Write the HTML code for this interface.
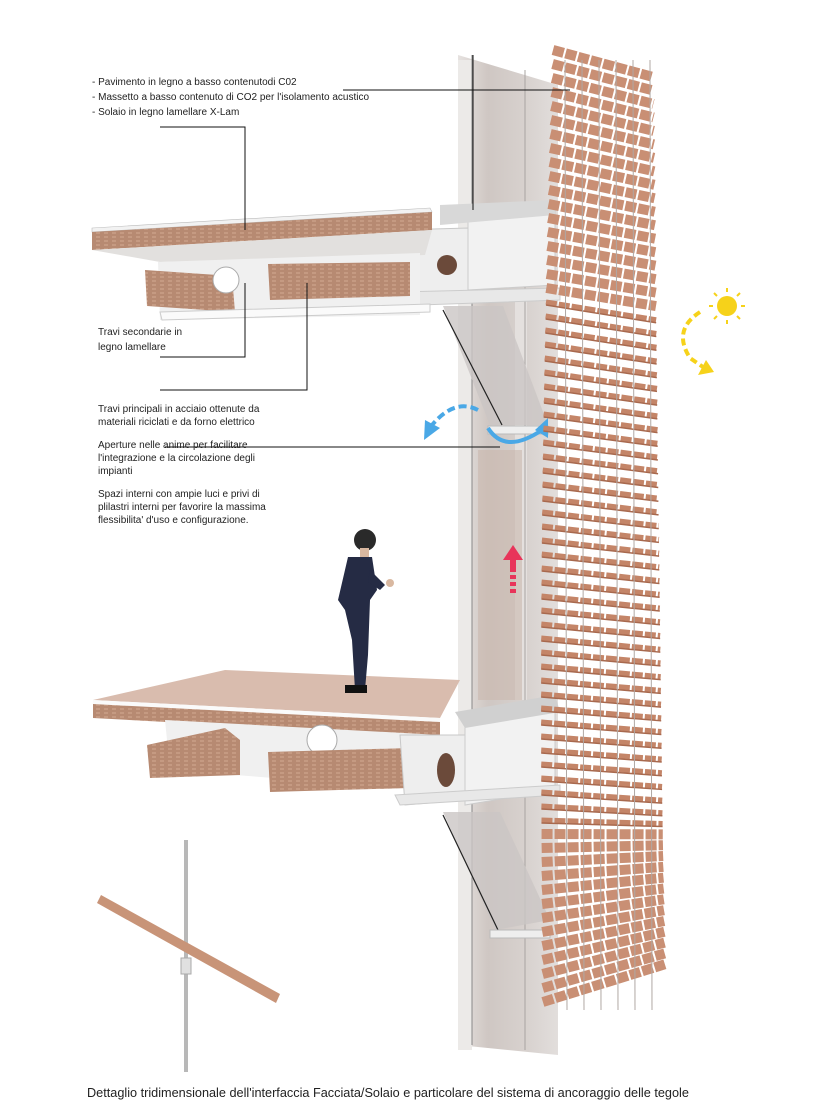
<!DOCTYPE html>
<html><head><meta charset="utf-8"><style>
html,body{margin:0;padding:0;background:#fff;}
svg{display:block}
text{font-family:"Liberation Sans",Arial,sans-serif;font-size:10px;fill:#222}
</style></head><body>
<svg id="s" width="840" height="1120" viewBox="0 0 840 1120" xmlns="http://www.w3.org/2000/svg">
<defs>
<linearGradient id="gl" x1="0" x2="1"><stop offset="0" stop-color="#e6e2e0"/><stop offset="0.3" stop-color="#cfc7c3"/><stop offset="0.7" stop-color="#d8d2cf"/><stop offset="1" stop-color="#e2dedc"/></linearGradient>
<pattern id="wd" width="8" height="4" patternUnits="userSpaceOnUse"><rect width="8" height="4" fill="#b78a72"/><rect width="4" height="2" fill="#c59a82"/></pattern>
</defs>
<polygon points="458,55 558,85 558,1055 458,1045" fill="url(#gl)"/>
<rect x="458" y="60" width="14" height="990" fill="#eceae8"/>
<rect x="515" y="300" width="12" height="400" fill="#e4e0de"/>
<line x1="472" y1="55" x2="472" y2="1045" stroke="#888" stroke-width="1"/>
<line x1="525" y1="70" x2="525" y2="1050" stroke="#a8a4a2" stroke-width="1"/>
<rect x="478" y="450" width="44" height="250" fill="#c9b8ae" opacity="0.6"/>
<polygon points="398,230 468,228 468,300 405,298" fill="#eeeeee" stroke="#c8c8c8"/>
<circle cx="447" cy="265" r="10" fill="#6b4a3a"/>
<polygon points="468,210 555,205 555,285 468,290" fill="#f2f2f2" stroke="#ccc"/>
<polygon points="440,205 555,200 555,215 440,225" fill="#d8d8d8"/>
<polygon points="400,292 560,288 560,300 420,305" fill="#e8e8e8" stroke="#ccc"/>
<polygon points="443,306 503,306 548,425 490,425" fill="#cbc6c4" opacity="0.8"/>
<line x1="443" y1="310" x2="502" y2="425" stroke="#222" stroke-width="1.2"/>
<rect x="488" y="426" width="60" height="8" fill="#eee" stroke="#bbb"/>
<polygon points="92,228 430,208 432,212 92,232" fill="#f2f2f2" stroke="#bbb" stroke-width="0.6"/>
<polygon points="92,232 432,212 432,230 92,250" fill="url(#wd)"/>
<polygon points="92,250 432,230 425,255 160,262" fill="#e2e0de"/>
<polygon points="158,262 420,253 420,315 160,320" fill="#f0f0f0"/>
<polygon points="145,270 232,276 235,312 147,306" fill="url(#wd)"/>
<circle cx="226" cy="280" r="13" fill="#fff" stroke="#aaa"/>
<polygon points="268,264 410,262 410,296 270,300" fill="url(#wd)"/>
<polygon points="160,312 430,304 430,312 162,320" fill="#fafafa" stroke="#ccc"/>
<polygon points="93,700 225,670 460,680 440,718" fill="#d9bcae"/>
<polygon points="93,700 440,718 440,722 93,704" fill="#fafafa"/>
<polygon points="93,704 440,722 440,737 93,718" fill="url(#wd)"/>
<polygon points="165,720 440,735 430,790 170,770" fill="#f0f0f0"/>
<circle cx="322" cy="740" r="15" fill="#fff" stroke="#aaa"/>
<polygon points="147,745 225,728 240,740 240,775 150,778" fill="url(#wd)"/>
<polygon points="268,752 410,748 410,788 270,792" fill="url(#wd)"/>
<polygon points="400,735 465,735 465,800 405,805" fill="#eeeeee" stroke="#c8c8c8"/>
<ellipse cx="446" cy="770" rx="9" ry="17" fill="#6b4a3a"/>
<polygon points="465,715 555,700 555,790 465,805" fill="#f2f2f2" stroke="#ccc"/>
<polygon points="455,712 555,695 560,712 465,728" fill="#d0d0d0"/>
<polygon points="395,795 560,785 560,795 400,805" fill="#e8e8e8" stroke="#ccc"/>
<polygon points="443,812 500,812 550,920 495,930" fill="#cbc6c4" opacity="0.8"/>
<line x1="443" y1="815" x2="498" y2="930" stroke="#222" stroke-width="1.2"/>
<rect x="490" y="930" width="60" height="8" fill="#eee" stroke="#bbb"/>
<g fill="#252b44">
<ellipse cx="365" cy="540" rx="11" ry="11" fill="#2a2a2a"/>
<rect x="360" y="548" width="9" height="12" fill="#d9b8a0"/>
<path d="M348,557 L372,557 L377,590 L370,600 L368,655 L365,690 L355,690 L352,640 L345,610 L338,600 Z"/>
<path d="M370,570 L385,585 L380,590 L368,582 Z"/>
<rect x="345" y="685" width="22" height="8" fill="#111"/>
</g>
<circle cx="390" cy="583" r="4" fill="#d9b8a0"/>
<polygon points="513,545 523,560 503,560" fill="#e8345a"/>
<rect x="510" y="560" width="6" height="12" fill="#e8345a"/>
<rect x="510" y="575" width="6" height="4" fill="#e8345a"/><rect x="510" y="582" width="6" height="4" fill="#e8345a"/><rect x="510" y="589" width="6" height="4" fill="#e8345a"/>
<path d="M478,410 Q455,398 432,425" stroke="#4aa8e6" stroke-width="4" fill="none" stroke-dasharray="8 4"/>
<polygon points="424,440 425,420 440,428" fill="#4aa8e6"/>
<path d="M488,428 Q505,455 542,430" stroke="#4aa8e6" stroke-width="4" fill="none"/>
<polygon points="548,418 548,438 535,430" fill="#4aa8e6"/>
<circle cx="727" cy="306" r="10" fill="#f6d21a"/>
<g stroke="#f6d21a" stroke-width="2"><line x1="727" y1="288" x2="727" y2="292"/><line x1="727" y1="320" x2="727" y2="324"/><line x1="709" y1="306" x2="713" y2="306"/><line x1="741" y1="306" x2="745" y2="306"/><line x1="714" y1="293" x2="717" y2="296"/><line x1="737" y1="316" x2="740" y2="319"/><line x1="740" y1="293" x2="737" y2="296"/><line x1="714" y1="319" x2="717" y2="316"/></g>
<path d="M700,312 Q672,330 690,358 L703,367" stroke="#f6d21a" stroke-width="4" fill="none" stroke-dasharray="7 4"/>
<polygon points="714,372 698,375 706,360" fill="#f6d21a"/>
<g id="tiles"></g>
<rect x="184" y="840" width="4" height="232" fill="#b8b8b8"/>
<polygon points="97,903 101,895 280,994 276,1003" fill="#c89478"/>
<rect x="181" y="958" width="10" height="16" fill="#e0e0e0" stroke="#aaa"/>
<g stroke="#111" stroke-width="1" fill="none">
<line x1="343" y1="90" x2="570" y2="90"/>
<polyline points="160,127 245,127 245,230"/>
<polyline points="160,357 245,357 245,283"/>
<polyline points="160,390 307,390 307,283"/>
<line x1="165" y1="447" x2="500" y2="447"/>
<line x1="473" y1="55" x2="473" y2="210"/>
</g>
<text x="92" y="85">- Pavimento in legno a basso contenutodi C02</text>
<text x="92" y="100">- Massetto a basso contenuto di CO2 per l'isolamento acustico</text>
<text x="92" y="115">- Solaio in legno lamellare X-Lam</text>
<text x="98" y="335">Travi secondarie in</text>
<text x="98" y="350">legno lamellare</text>
<text x="98" y="412">Travi principali in acciaio ottenute da</text>
<text x="98" y="425">materiali riciclati e da forno elettrico</text>
<text x="98" y="448">Aperture nelle anime per facilitare</text>
<text x="98" y="461">l'integrazione e la circolazione degli</text>
<text x="98" y="474">impianti</text>
<text x="98" y="497">Spazi interni con ampie luci e privi di</text>
<text x="98" y="510">plilastri interni per favorire la massima</text>
<text x="98" y="523">flessibilita' d'uso e configurazione.</text>
<text x="87" y="1097" style="font-size:12.7px">Dettaglio tridimensionale dell'interfaccia Facciata/Solaio e particolare del sistema di ancoraggio delle tegole</text>
</svg>
<script>
var g=document.getElementById('tiles'),h='';
for(var y=50;y<=1012;y+=14){
 var t=(y-50)/962;
 var xl=553-10*t-6*Math.sin(t*Math.PI), xr=653+12*t;
 var dy;
 if(t<0.25)dy=27-9*(t/0.25); else if(t<0.78)dy=18-10*((t-0.25)/0.53); else dy=8-48*((t-0.78)/0.22);
 var dense=(y<300||y>820);
 var w=dense?10:5;
 h+='<line x1="'+xl+'" y1="'+y+'" x2="'+xr+'" y2="'+(y+dy)+'" stroke="'+(dense?'#c98f74':'#c48568')+'" stroke-width="'+w+'" stroke-dasharray="11 2"/>';
 if(!dense)h+='<line x1="'+xl+'" y1="'+(y+3)+'" x2="'+xr+'" y2="'+(y+dy+3)+'" stroke="#a8694e" stroke-width="1.5"/>';
}
for(var i=0;i<6;i++){var x=565+i*17;h+='<line x1="'+x+'" y1="60" x2="'+(x+2)+'" y2="1010" stroke="#b0a8a4" stroke-width="1"/>';}
g.innerHTML=h;
</script>
</body></html>
